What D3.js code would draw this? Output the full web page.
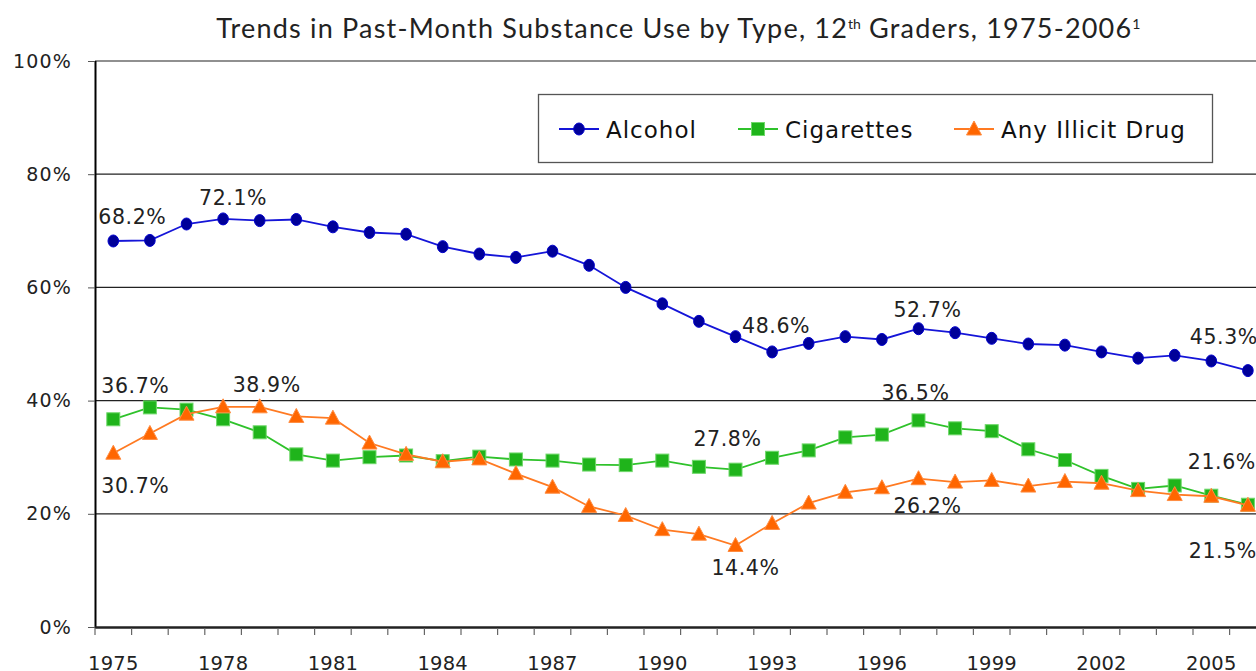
<!DOCTYPE html>
<html><head><meta charset="utf-8">
<script src="https://cdn.jsdelivr.net/npm/d3@7"></script>
<style>
html,body{margin:0;padding:0;background:#fff;overflow:hidden;}
svg{display:block;}
</style></head>
<body>
<svg id="chart" width="1256" height="671"></svg>
<script>
const years = d3.range(1975, 2007);
const alcohol = [68.2,68.3,71.2,72.1,71.8,72.0,70.7,69.7,69.4,67.2,65.9,65.3,66.4,63.9,60.0,57.1,54.0,51.3,48.6,50.1,51.3,50.8,52.7,52.0,51.0,50.0,49.8,48.6,47.5,48.0,47.0,45.3];
const cigarettes = [36.7,38.8,38.4,36.7,34.4,30.5,29.4,30.0,30.3,29.3,30.1,29.6,29.4,28.7,28.6,29.4,28.3,27.8,29.9,31.2,33.5,34.0,36.5,35.1,34.6,31.4,29.5,26.7,24.4,25.0,23.2,21.6];
const illicit = [30.7,34.2,37.6,38.9,38.9,37.2,36.9,32.5,30.5,29.2,29.7,27.1,24.7,21.3,19.7,17.2,16.4,14.4,18.3,21.9,23.8,24.6,26.2,25.6,25.9,24.9,25.7,25.4,24.1,23.4,23.1,21.5];
const seriesNames = ["Alcohol", "Cigarettes", "Any Illicit Drug"];
const yTicks = [0, 20, 40, 60, 80, 100];
const xTickYears = years.filter(y => (y - 1975) % 3 === 0);
// annotated points: series index, year
const annotations = [
  {s:0, year:1975, dx:19, dy:-24},
  {s:0, year:1978, dx:10, dy:-21},
  {s:0, year:1993, dx:4, dy:-26},
  {s:0, year:1997, dx:9, dy:-19},
  {s:0, year:2006, dx:-24, dy:-34},
  {s:1, year:1975, dx:22, dy:-34},
  {s:2, year:1979, dx:7, dy:-22},
  {s:2, year:1975, dx:22, dy:32},
  {s:1, year:1992, dx:-8, dy:-31},
  {s:1, year:1997, dx:-3, dy:-28},
  {s:2, year:1997, dx:9, dy:27},
  {s:2, year:1992, dx:10, dy:22},
  {s:1, year:2006, dx:-26, dy:-43},
  {s:2, year:2006, dx:-25, dy:45}
];

(function () {
const svg = d3.select("#chart");
const pL = 95, pT = 61, pB = 627, band = 36.6;
const x = d3.scalePoint().domain(years).range([pL, pL + band*years.length]).padding(0.5);
const xb = d3.scaleBand().domain(years).range([pL, pL + band*years.length]);
const y = d3.scaleLinear().domain([0, 100]).range([pB, pT]);

const font = "'DejaVu Sans', Verdana, sans-serif";

// title
const title = svg.append("text").attr("x", 679).attr("y", 38).attr("text-anchor", "middle")
  .style("font-family", "Lato, 'Open Sans', sans-serif").style("font-size", "27px")
  .style("letter-spacing", "1.2px").attr("fill", "#222");
title.append("tspan").text("Trends in Past-Month Substance Use by Type, 12");
title.append("tspan").text("th").attr("dy", -9).style("font-size", "14px").style("letter-spacing", "0px");
title.append("tspan").text(" Graders, 1975-2006").attr("dy", 9);
title.append("tspan").text("1").attr("dy", -9).style("font-size", "14px");

// gridlines
svg.append("g").selectAll("line").data(yTicks.filter(d => d > 0)).join("line")
  .attr("x1", pL).attr("x2", 1256).attr("y1", d => y(d)).attr("y2", d => y(d))
  .attr("stroke", "#222").attr("stroke-width", 1.2);

// y axis
const yAxis = svg.append("g").attr("transform", `translate(${pL},0)`)
  .call(d3.axisLeft(y).tickValues(yTicks).tickFormat(d => d + "%").tickSize(7).tickPadding(16));
yAxis.select(".domain").attr("stroke", "#000").attr("stroke-width", 2).attr("d", `M0.5,${pT}V${pB}`);
yAxis.selectAll(".tick line").attr("stroke", "#555");
yAxis.selectAll("text").style("font-family", font).style("font-size", "19px").style("letter-spacing", "1.2px").attr("fill", "#222");

// x axis
const xAxisG = svg.append("g").attr("transform", `translate(0,${pB})`);
xAxisG.append("line").attr("x1", pL).attr("x2", 1256).attr("y1", 0.5).attr("y2", 0.5).attr("stroke", "#222").attr("stroke-width", 2.5);
xAxisG.selectAll("line.tk").data(years).join("line").attr("class", "tk")
  .attr("x1", d => xb(d)).attr("x2", d => xb(d)).attr("y1", 1).attr("y2", 8).attr("stroke", "#666").attr("stroke-width", 1.2);
xAxisG.selectAll("text").data(xTickYears).join("text")
  .attr("x", d => x(d)).attr("y", 43).attr("text-anchor", "middle")
  .style("font-family", font).style("font-size", "19.5px").style("letter-spacing", "0.2px").attr("fill", "#222")
  .text(d => d);

const data = [alcohol, cigarettes, illicit];
const lineColors = ["#1515d8", "#2fc22b", "#ff7a22"];
const fillColors = ["#000099", "#1fb41b", "#ff6600"];
const strokeColors = ["#0000cc", "#6fd86a", "#ff8c40"];

const line = d3.line().x((d, i) => x(years[i])).y(d => y(d));

function marker(g, s, cx, cy) {
  if (s === 0) {
    g.append("ellipse").attr("cx", cx).attr("cy", cy).attr("rx", 5.3).attr("ry", 6)
      .attr("fill", fillColors[0]).attr("stroke", strokeColors[0]).attr("stroke-width", 1);
  } else if (s === 1) {
    const h = 6.5;
    g.append("rect").attr("x", cx - h).attr("y", cy - h).attr("width", 2*h).attr("height", 2*h)
      .attr("fill", fillColors[1]).attr("stroke", strokeColors[1]).attr("stroke-width", 1);
  } else {
    const w = 7.5, h = 7;
    g.append("path").attr("d", `M${cx},${cy - h - 1}L${cx + w},${cy + h - 1}L${cx - w},${cy + h - 1}Z`)
      .attr("fill", fillColors[2]).attr("stroke", strokeColors[2]).attr("stroke-width", 1);
  }
}

data.forEach((vals, s) => {
  const g = svg.append("g");
  g.append("path").datum(vals).attr("d", line).attr("fill", "none")
    .attr("stroke", lineColors[s]).attr("stroke-width", 1.8);
  vals.forEach((v, i) => marker(g, s, x(years[i]), y(v)));
});

// data labels
svg.append("g").selectAll("text").data(annotations).join("text")
  .attr("x", d => x(d.year) + d.dx)
  .attr("y", d => y(data[d.s][years.indexOf(d.year)]) + d.dy + 7.5)
  .attr("text-anchor", "middle")
  .style("font-family", font).style("font-size", "20.5px").style("letter-spacing", "0.6px").attr("fill", "#222")
  .text(d => data[d.s][years.indexOf(d.year)].toFixed(1) + "%");

// legend
const lg = svg.append("g");
lg.append("rect").attr("x", 538.5).attr("y", 94.5).attr("width", 674).attr("height", 68)
  .attr("fill", "#fff").attr("stroke", "#555").attr("stroke-width", 1.3);
const legendX = [579, 758, 974];
seriesNames.forEach((name, s) => {
  const cx = legendX[s], cy = 129;
  lg.append("line").attr("x1", cx - 20).attr("x2", cx + 20).attr("y1", cy).attr("y2", cy)
    .attr("stroke", lineColors[s]).attr("stroke-width", 1.8);
  marker(lg, s, cx, cy);
  lg.append("text").attr("x", cx + 27).attr("y", cy + 9)
    .style("font-family", font).style("font-size", "23px").style("letter-spacing", "1px").attr("fill", "#111")
    .text(name);
});
})();
</script>
</body></html>
